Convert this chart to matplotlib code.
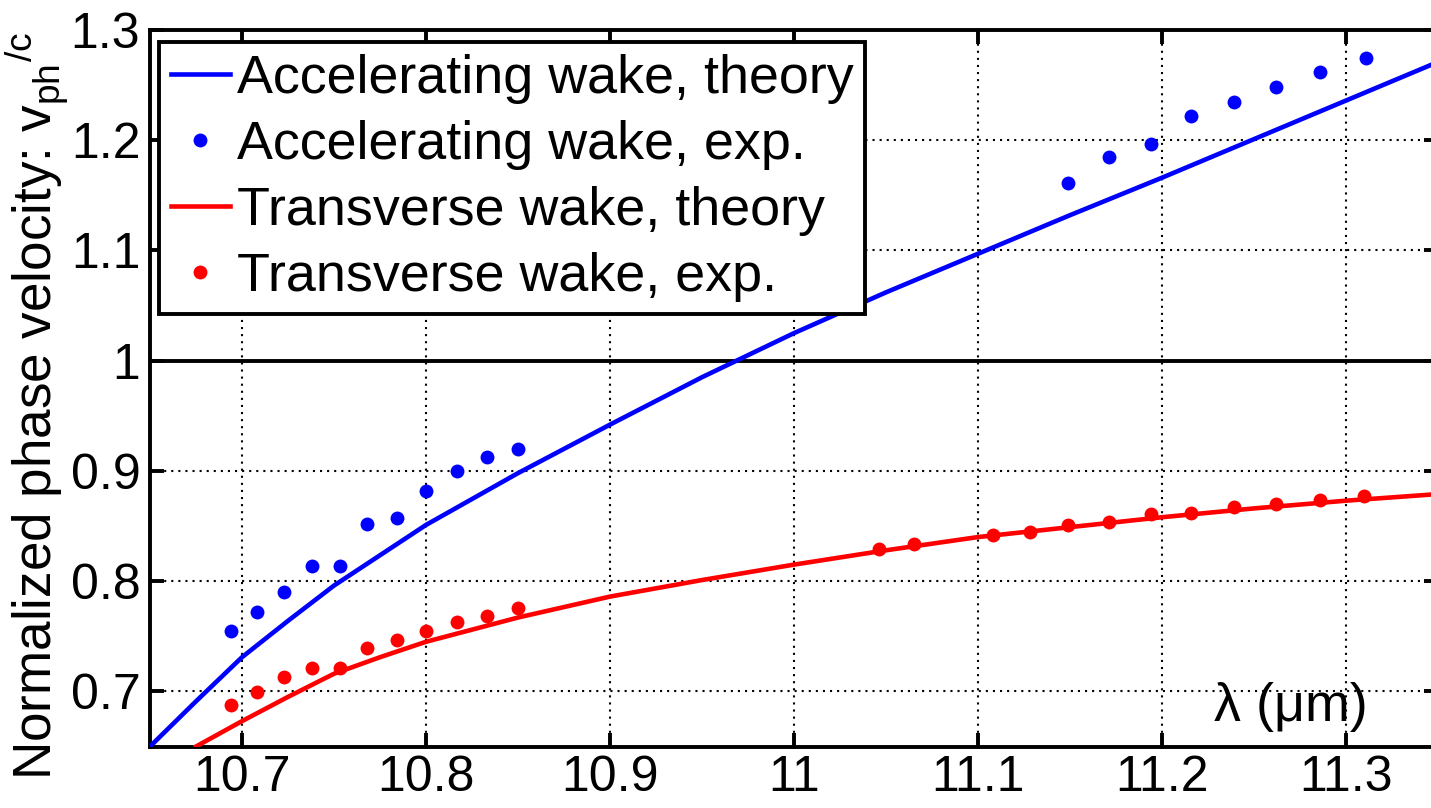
import matplotlib
matplotlib.use("Agg")
import matplotlib.pyplot as plt
from matplotlib.ticker import FuncFormatter

plt.rcParams['font.family'] = ['Liberation Sans', 'DejaVu Sans']
plt.rcParams['mathtext.fontset'] = 'custom'
plt.rcParams['mathtext.rm'] = 'Liberation Sans'
plt.rcParams['mathtext.it'] = 'Liberation Sans'

# ---- data ----
acc_theory_x = [10.65, 10.675, 10.7, 10.725, 10.75, 10.8, 10.85, 10.9, 10.95, 11.0,
                11.05, 11.1, 11.15, 11.2, 11.25, 11.3, 11.35]
acc_theory_y = [0.650, 0.691, 0.731, 0.764, 0.796, 0.851, 0.898, 0.942, 0.985, 1.025,
                1.062, 1.097, 1.132, 1.166, 1.201, 1.236, 1.271]

acc_exp_x = [10.694, 10.708, 10.723, 10.738, 10.753, 10.768, 10.784, 10.800, 10.817, 10.833, 10.850,
             11.149, 11.171, 11.194, 11.216, 11.239, 11.262, 11.286, 11.311]
acc_exp_y = [0.755, 0.772, 0.790, 0.814, 0.814, 0.852, 0.857, 0.882, 0.900, 0.913, 0.920,
             1.161, 1.185, 1.197, 1.222, 1.235, 1.248, 1.262, 1.275]

tr_theory_x = [10.675, 10.7, 10.725, 10.75, 10.775, 10.8, 10.85, 10.9, 10.95, 11.0,
               11.05, 11.1, 11.15, 11.2, 11.25, 11.3, 11.35]
tr_theory_y = [0.650, 0.673, 0.695, 0.716, 0.731, 0.745, 0.767, 0.786, 0.801, 0.815,
               0.828, 0.840, 0.849, 0.858, 0.866, 0.873, 0.879]

tr_exp_x = [10.694, 10.708, 10.723, 10.738, 10.753, 10.768, 10.784, 10.800, 10.817, 10.833, 10.850,
            11.046, 11.065, 11.108, 11.128, 11.149, 11.171, 11.194, 11.216, 11.239, 11.262, 11.286, 11.310]
tr_exp_y = [0.688, 0.699, 0.713, 0.721, 0.721, 0.739, 0.747, 0.755, 0.763, 0.768, 0.776,
            0.829, 0.834, 0.842, 0.845, 0.851, 0.854, 0.861, 0.862, 0.867, 0.870, 0.874, 0.877]

x_ticks = [10.7, 10.8, 10.9, 11.0, 11.1, 11.2, 11.3]
y_ticks = [0.7, 0.8, 0.9, 1.0, 1.1, 1.2, 1.3]
labels = ['Accelerating wake, theory', 'Accelerating wake, exp.',
          'Transverse wake, theory', 'Transverse wake, exp.']

FS = 36
FS_BIG = 38.8
W, H = 1431, 808
fig = plt.figure(figsize=(W / 100, H / 100), dpi=100)
ax = fig.add_axes([150 / W, (H - 746.5) / H, (1438 - 150) / W, (746.5 - 30) / H])

ax.plot(acc_theory_x, acc_theory_y, color='#0000ff', lw=3.3, label=labels[0], zorder=3)
ax.plot(acc_exp_x, acc_exp_y, ls='none', marker='o', ms=10, mec='none', color='#0000ff',
        label=labels[1], zorder=4)
ax.plot(tr_theory_x, tr_theory_y, color='#ff0000', lw=3.3, label=labels[2], zorder=3)
ax.plot(tr_exp_x, tr_exp_y, ls='none', marker='o', ms=10, mec='none', color='#ff0000',
        label=labels[3], zorder=4)

ax.axhline(1.0, color='black', lw=2.8, zorder=2)

ax.set_xlim(10.65, 11.35)
ax.set_ylim(0.65, 1.3)
ax.set_xticks(x_ticks)
ax.set_yticks(y_ticks)
fmt = FuncFormatter(lambda v, p: '%g' % round(v, 3))
ax.xaxis.set_major_formatter(fmt)
ax.yaxis.set_major_formatter(fmt)

ax.grid(True, color='black', linestyle=(0, (1, 2.4)), lw=1.5)
ax.set_axisbelow(True)
ax.tick_params(axis='both', direction='in', length=10, width=2.8, labelsize=FS,
               top=True, right=True, colors='black')
ax.tick_params(axis='x', pad=6)
ax.tick_params(axis='y', pad=7)
for s in ax.spines.values():
    s.set_linewidth(2.8)

ax.set_ylabel(r'Normalized phase velocity: v$_{\mathregular{ph}}$$^{\mathregular{/c}}$',
              fontsize=38.2)
ax.yaxis.set_label_coords(-0.061, 0.475)

ax.text(11.27, 0.673, 'λ (μm)', fontsize=FS_BIG, ha='center', va='baseline')

leg = ax.legend(loc='upper left', bbox_to_anchor=(9 / 1288, 1 - 12 / 716.5),
                borderaxespad=0, fontsize=FS_BIG, frameon=True, fancybox=False,
                edgecolor='black', framealpha=1, handlelength=1.1, handletextpad=0.12,
                borderpad=0.22, labelspacing=0.3, numpoints=1)
leg.get_frame().set_linewidth(2.8)

fig.savefig('out.png', dpi=100)
